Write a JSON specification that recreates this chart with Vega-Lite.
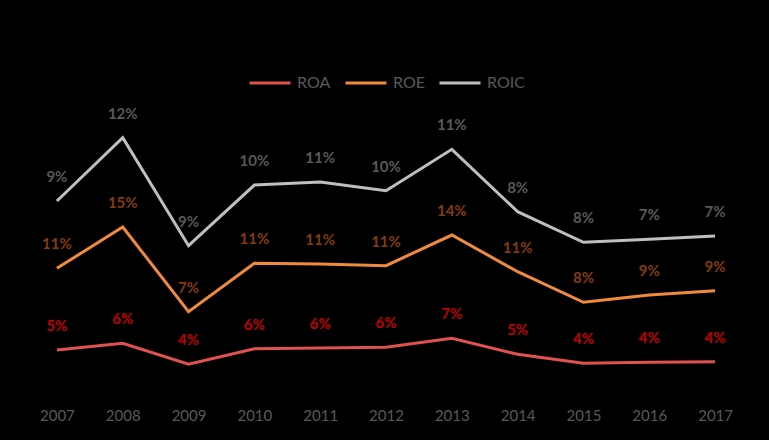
{
  "$schema": "https://vega.github.io/schema/vega-lite/v6.json",
  "width": 724,
  "height": 302,
  "autosize": {"type": "none"},
  "padding": {"left": 24, "top": 89, "right": 21, "bottom": 49},
  "background": "#000000",
  "config": {"view": {"stroke": null}, "font": "Lato"},
  "data": {
    "values": [
      {"year": "2007", "series": "ROA", "ord": 1, "value": 0.0543},
      {"year": "2008", "series": "ROA", "ord": 1, "value": 0.0632},
      {"year": "2009", "series": "ROA", "ord": 1, "value": 0.0354},
      {"year": "2010", "series": "ROA", "ord": 1, "value": 0.0560},
      {"year": "2011", "series": "ROA", "ord": 1, "value": 0.0570},
      {"year": "2012", "series": "ROA", "ord": 1, "value": 0.0579},
      {"year": "2013", "series": "ROA", "ord": 1, "value": 0.0698},
      {"year": "2014", "series": "ROA", "ord": 1, "value": 0.0486},
      {"year": "2015", "series": "ROA", "ord": 1, "value": 0.0367},
      {"year": "2016", "series": "ROA", "ord": 1, "value": 0.0380},
      {"year": "2017", "series": "ROA", "ord": 1, "value": 0.0388},
      {"year": "2007", "series": "ROE", "ord": 2, "value": 0.1082},
      {"year": "2008", "series": "ROE", "ord": 2, "value": 0.1540},
      {"year": "2009", "series": "ROE", "ord": 2, "value": 0.0697},
      {"year": "2010", "series": "ROE", "ord": 2, "value": 0.1131},
      {"year": "2011", "series": "ROE", "ord": 2, "value": 0.1113},
      {"year": "2012", "series": "ROE", "ord": 2, "value": 0.1081},
      {"year": "2013", "series": "ROE", "ord": 2, "value": 0.1368},
      {"year": "2014", "series": "ROE", "ord": 2, "value": 0.1094},
      {"year": "2015", "series": "ROE", "ord": 2, "value": 0.0808},
      {"year": "2016", "series": "ROE", "ord": 2, "value": 0.0890},
      {"year": "2017", "series": "ROE", "ord": 2, "value": 0.0940},
      {"year": "2007", "series": "ROIC", "ord": 3, "value": 0.0891},
      {"year": "2008", "series": "ROIC", "ord": 3, "value": 0.1183},
      {"year": "2009", "series": "ROIC", "ord": 3, "value": 0.0874},
      {"year": "2010", "series": "ROIC", "ord": 3, "value": 0.1037},
      {"year": "2011", "series": "ROIC", "ord": 3, "value": 0.1086},
      {"year": "2012", "series": "ROIC", "ord": 3, "value": 0.0993},
      {"year": "2013", "series": "ROIC", "ord": 3, "value": 0.1135},
      {"year": "2014", "series": "ROIC", "ord": 3, "value": 0.0795},
      {"year": "2015", "series": "ROIC", "ord": 3, "value": 0.0795},
      {"year": "2016", "series": "ROIC", "ord": 3, "value": 0.0740},
      {"year": "2017", "series": "ROIC", "ord": 3, "value": 0.0724}
    ]
  },
  "transform": [
    {"stack": "value", "groupby": ["year"], "sort": [{"field": "ord", "order": "ascending"}], "as": ["y0", "y1"]}
  ],
  "encoding": {
    "x": {
      "field": "year",
      "type": "ordinal",
      "scale": {"type": "point", "padding": 0.5},
      "axis": {
        "title": null,
        "domain": false,
        "ticks": false,
        "labelAngle": 0,
        "labelColor": "#595959",
        "labelFont": "Lato",
        "labelFontSize": 15,
        "labelPadding": 17
      }
    },
    "y": {
      "field": "y1",
      "type": "quantitative",
      "scale": {"domain": [0, 0.4], "nice": false, "zero": true},
      "axis": null
    }
  },
  "layer": [
    {
      "mark": {"type": "line", "strokeWidth": 3},
      "encoding": {
        "color": {
          "field": "series",
          "type": "nominal",
          "scale": {"domain": ["ROA", "ROE", "ROIC"], "range": ["#e0524f", "#f08a3c", "#bfbfbf"]},
          "legend": {
            "title": null,
            "orient": "none",
            "direction": "horizontal",
            "legendX": 224,
            "legendY": -28,
            "symbolType": "stroke",
            "symbolStrokeWidth": 3,
            "symbolSize": 1681,
            "labelColor": "#595959",
            "labelFont": "Lato",
            "labelFontSize": 16,
            "labelOffset": 5,
            "columnPadding": 8
          }
        }
      }
    },
    {
      "mark": {"type": "text", "dy": -24, "fontWeight": "bold", "fontSize": 15, "font": "Lato"},
      "encoding": {
        "text": {"field": "value", "type": "quantitative", "format": ".0%"},
        "color": {
          "field": "series",
          "type": "nominal",
          "scale": {"domain": ["ROA", "ROE", "ROIC"], "range": ["#c00000", "#843c0c", "#595959"]},
          "legend": null
        }
      }
    }
  ],
  "resolve": {"scale": {"color": "independent"}}
}
